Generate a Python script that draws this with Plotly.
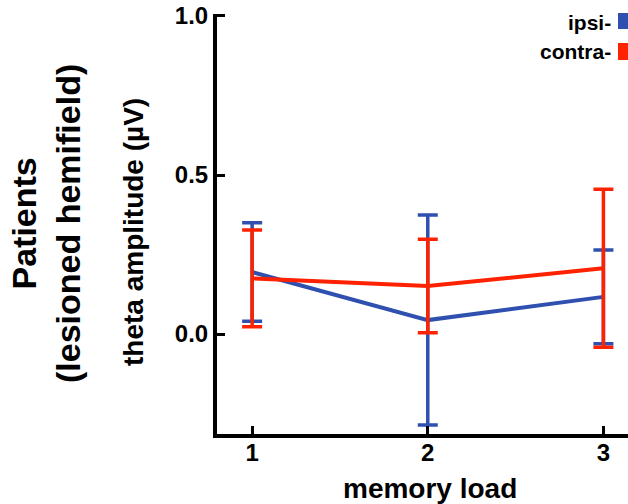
import plotly.graph_objects as go

memory_load = [1, 2, 3]
ipsi_mean = [0.195, 0.044, 0.117]
ipsi_err = [0.155, 0.33, 0.147]
contra_mean = [0.175, 0.151, 0.207]
contra_err = [0.152, 0.147, 0.248]
y_ticks = [0.0, 0.5, 1.0]
y_ticklabels = ["0.0", "0.5", "1.0"]

BLUE = "#3050B0"
RED = "#FF2200"
FONT = "Liberation Sans, Arial, sans-serif"

W, H = 628, 504
l, r, t, b = 217, 0, 14, 70
pw, ph = W - l - r, H - t - b


def px_to_paper(x, y):
    return (x - l) / pw, (H - b - y) / ph


fig = go.Figure()
fig.add_trace(go.Scatter(
    x=memory_load, y=ipsi_mean, mode="lines", name="ipsi-",
    line=dict(color=BLUE, width=4),
    error_y=dict(type="data", array=ipsi_err, color=BLUE, thickness=3.5, width=10),
))
fig.add_trace(go.Scatter(
    x=memory_load, y=contra_mean, mode="lines", name="contra-",
    line=dict(color=RED, width=4),
    error_y=dict(type="data", array=contra_err, color=RED, thickness=3.5, width=10),
))

fig.update_layout(
    width=W, height=H,
    margin=dict(l=l, r=r, t=t, b=b, autoexpand=False),
    plot_bgcolor="white", paper_bgcolor="white",
    showlegend=False,
    font=dict(family=FONT, color="black", weight="bold"),
    xaxis=dict(
        range=[0.80, 3.14], tickvals=memory_load, ticktext=[str(v) for v in memory_load],
        showgrid=False, zeroline=False, showline=True, linecolor="black", linewidth=4,
        ticks="inside", ticklen=8, tickwidth=3, tickcolor="black",
        tickfont=dict(size=24, family=FONT, weight="bold"),
        ticklabelstandoff=-6,
        automargin=False,
    ),
    yaxis=dict(
        range=[-0.314, 1.006], tickvals=y_ticks, ticktext=y_ticklabels,
        showgrid=False, zeroline=False, showline=True, linecolor="black", linewidth=4,
        ticks="inside", ticklen=8, tickwidth=3, tickcolor="black",
        tickfont=dict(size=24, family=FONT, weight="bold"),
        automargin=False,
    ),
)

ann_specs = [
    ("theta amplitude (µV)", 134, 232, 28, -90, "center"),
    ("Patients<br>(lesioned hemifield)", 46, 224, 34, -90, "center"),
    ("memory load", 430, 488, 28, 0, "center"),
    ("ipsi-", 613, 22, 21, 0, "right"),
    ("contra-", 613, 51, 21, 0, "right"),
]
for text, xpx, ypx, size, angle, xa in ann_specs:
    xp, yp = px_to_paper(xpx, ypx)
    fig.add_annotation(text=text, x=xp, y=yp, xref="paper", yref="paper",
                       xanchor=xa, yanchor="middle", textangle=angle, showarrow=False,
                       font=dict(size=size, family=FONT, weight="bold", color="black"))

for (y0, y1, c) in [(13, 29, BLUE), (43, 60, RED)]:
    x0p, y0p = px_to_paper(618, y1)
    x1p, y1p = px_to_paper(628, y0)
    fig.add_shape(type="rect", xref="paper", yref="paper", x0=x0p, x1=x1p, y0=y0p, y1=y1p,
                  fillcolor=c, line=dict(width=0))

fig.write_html("out.html", config={"displayModeBar": False},
               post_script="document.body.style.margin='0';document.body.style.overflow='hidden';")
